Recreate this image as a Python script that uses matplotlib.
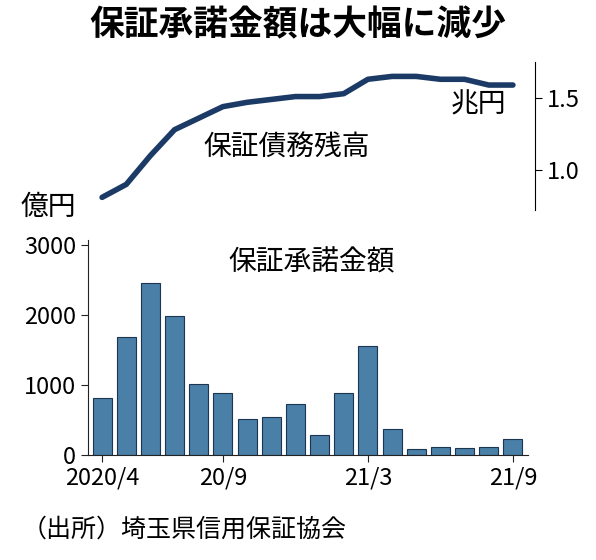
import matplotlib
matplotlib.use("Agg")
import matplotlib.pyplot as plt

plt.rcParams['font.family'] = ['Noto Sans CJK JP', 'DejaVu Sans']

months = list(range(18))
bar_values = [810, 1690, 2460, 1980, 1010, 890, 520, 540, 730, 280, 880, 1560, 370, 80, 110, 100, 110, 230]
line_values = [0.81, 0.90, 1.10, 1.28, 1.36, 1.44, 1.47, 1.49, 1.51, 1.51, 1.53, 1.63, 1.65, 1.65, 1.63, 1.63, 1.59, 1.59]
xtick_pos = [0, 5, 11, 17]
xtick_labels = ["2020/4", "20/9", "21/3", "21/9"]

fig = plt.figure(figsize=(5.96, 5.60), dpi=100)
W, H = 596, 560
slot = (525 - 90) / 18
x0 = -0.5 - (90 - 88) / slot
def px2x(p):
    return x0 + (p - 88) / slot

ax = fig.add_axes([88 / W, 1 - 455 / H, (528 - 88) / W, 215 / H])
ax.bar(months, bar_values, width=0.78, color='#4a7fa8', edgecolor='#1c3550', linewidth=0.8)
ax.set_xlim(x0, px2x(528))
ax.set_ylim(0, 3000 * 215 / 210)
ax.set_yticks([0, 1000, 2000, 3000])
ax.set_xticks(xtick_pos)
ax.set_xticklabels(xtick_labels)
for s in ['top', 'right']:
    ax.spines[s].set_visible(False)
ax.tick_params(labelsize=17, length=5, color='#222')
ax.spines['left'].set_color('#222')
ax.spines['bottom'].set_color('#222')
fig.text(312 / W, 1 - 262 / H, "保証承諾金額", fontsize=20, ha='center', va='center')

ax2 = fig.add_axes([88 / W, 1 - 210 / H, (535 - 88) / W, 148 / H])
ax2.plot(months, line_values, color='#1b3a66', linewidth=4, solid_capstyle='round')
ax2.set_xlim(x0, px2x(535))
ax2.set_ylim(1.5 - (210 - 98) / 144, 1.5 + 36 / 144)
ax2.yaxis.tick_right()
ax2.set_yticks([1.0, 1.5])
ax2.set_yticklabels(["1.0", "1.5"])
ax2.set_xticks([])
for s in ['top', 'left', 'bottom']:
    ax2.spines[s].set_visible(False)
ax2.patch.set_alpha(0)
ax2.tick_params(labelsize=17, length=5)
fig.text(287 / W, 1 - 148 / H, "保証債務残高", fontsize=20, ha='center', va='center')

fig.text(0.5, 1 - 25 / H, "保証承諾金額は大幅に減少", fontsize=25, fontweight='bold', ha='center', va='center')
fig.text(478 / W, 1 - 104 / H, "兆円", fontsize=20, ha='center', va='center')
fig.text(48 / W, 1 - 207 / H, "億円", fontsize=20, ha='center', va='center')
fig.text(22 / W, 1 - 530 / H, "（出所）埼玉県信用保証協会", fontsize=18, ha='left', va='center')

fig.savefig("out.png", dpi=100)
